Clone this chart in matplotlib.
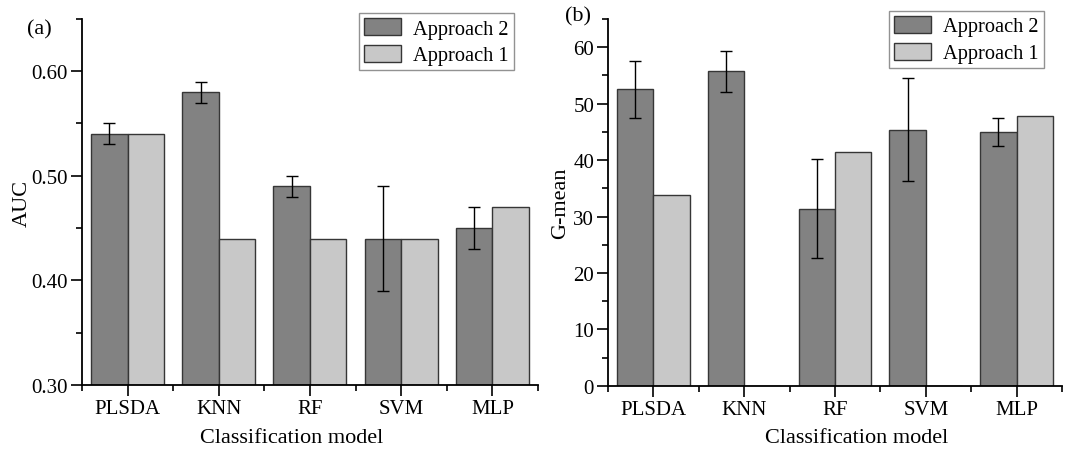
import matplotlib
matplotlib.use("Agg")
import matplotlib.pyplot as plt
import numpy as np
from matplotlib.ticker import MultipleLocator, FormatStrFormatter

plt.rcParams['font.family'] = ['Liberation Serif', 'DejaVu Serif']

categories = ["PLSDA", "KNN", "RF", "SVM", "MLP"]
auc_app2 = [0.54, 0.58, 0.49, 0.44, 0.45]
auc_app2_err = [0.01, 0.01, 0.01, 0.05, 0.02]
auc_app1 = [0.54, 0.44, 0.44, 0.44, 0.47]
gm_app2 = [52.5, 55.7, 31.4, 45.4, 45.0]
gm_app2_err = [5.1, 3.7, 8.7, 9.05, 2.5]
gm_app1 = [33.8, 0.0, 41.4, 0.0, 47.8]

dark = "#828282"
light = "#c8c8c8"
edge = "#363636"

fig = plt.figure(figsize=(10.7, 4.52), dpi=100)
ax1 = fig.add_axes([0.0766, 0.146, 0.4262, 0.810])
ax2 = fig.add_axes([0.5682, 0.144, 0.4243, 0.812])

x = np.arange(len(categories))
w = 0.4

def draw(ax, a2, a2e, a1, ylim, major, minor, ylabel, fmt, panel, ppos, lpos,
         ylab_x, xlab_fig):
    ax.bar(x - w/2, [v - ylim[0] for v in a2], w, bottom=ylim[0], color=dark,
           edgecolor=edge, linewidth=1.0, label="Approach 2", zorder=2)
    ax.bar(x + w/2, [v - ylim[0] for v in a1], w, bottom=ylim[0], color=light,
           edgecolor=edge, linewidth=1.0, label="Approach 1", zorder=2)
    ax.errorbar(x - w/2, a2, yerr=a2e, fmt='none', ecolor='black', elinewidth=1.0,
                capsize=4.3, capthick=1.0, zorder=3)
    ax.set_xlim(-0.5, len(categories) - 0.5)
    ax.set_ylim(*ylim)
    ax.set_xticks(x)
    ax.set_xticklabels(categories)
    ax.set_xticks(np.arange(-0.5, len(categories), 1.0), minor=True)
    ax.yaxis.set_major_locator(MultipleLocator(major))
    ax.yaxis.set_minor_locator(MultipleLocator(minor))
    ax.yaxis.set_major_formatter(fmt)
    ax.tick_params(axis='both', which='major', direction='out', length=8, width=1.2,
                   labelsize=15, pad=2)
    ax.tick_params(axis='both', which='minor', direction='out', length=4, width=1.2)
    for s in ['top', 'right']:
        ax.spines[s].set_visible(False)
    for s in ['left', 'bottom']:
        ax.spines[s].set_linewidth(1.3)
    ax.set_ylabel(ylabel, fontsize=16)
    ax.yaxis.set_label_coords(ylab_x, 0.5)
    fig.text(xlab_fig, 0.02, "Classification model", fontsize=16,
             ha='center', va='baseline')
    leg = ax.legend(loc='upper right', bbox_to_anchor=lpos, fontsize=14.7,
                    frameon=True, fancybox=False, edgecolor='#777777',
                    handlelength=1.8, handleheight=0.9, borderpad=0.25,
                    labelspacing=0.3, handletextpad=0.6, borderaxespad=0.0)
    leg.get_frame().set_linewidth(1.0)
    ax.text(ppos[0], ppos[1], panel, transform=ax.transAxes, fontsize=16,
            ha='left', va='center')

draw(ax1, auc_app2, auc_app2_err, auc_app1, (0.30, 0.65), 0.10, 0.05, "AUC",
     FormatStrFormatter('%.2f'), "(a)", (-0.121, 0.973), (0.947, 1.016),
     -0.111, 0.273)
draw(ax2, gm_app2, gm_app2_err, gm_app1, (0, 65), 10, 5, "G-mean",
     FormatStrFormatter('%d'), "(b)", (-0.095, 1.008), (0.960, 1.022),
     -0.084, 0.801)

fig.savefig("out.png", dpi=100)
